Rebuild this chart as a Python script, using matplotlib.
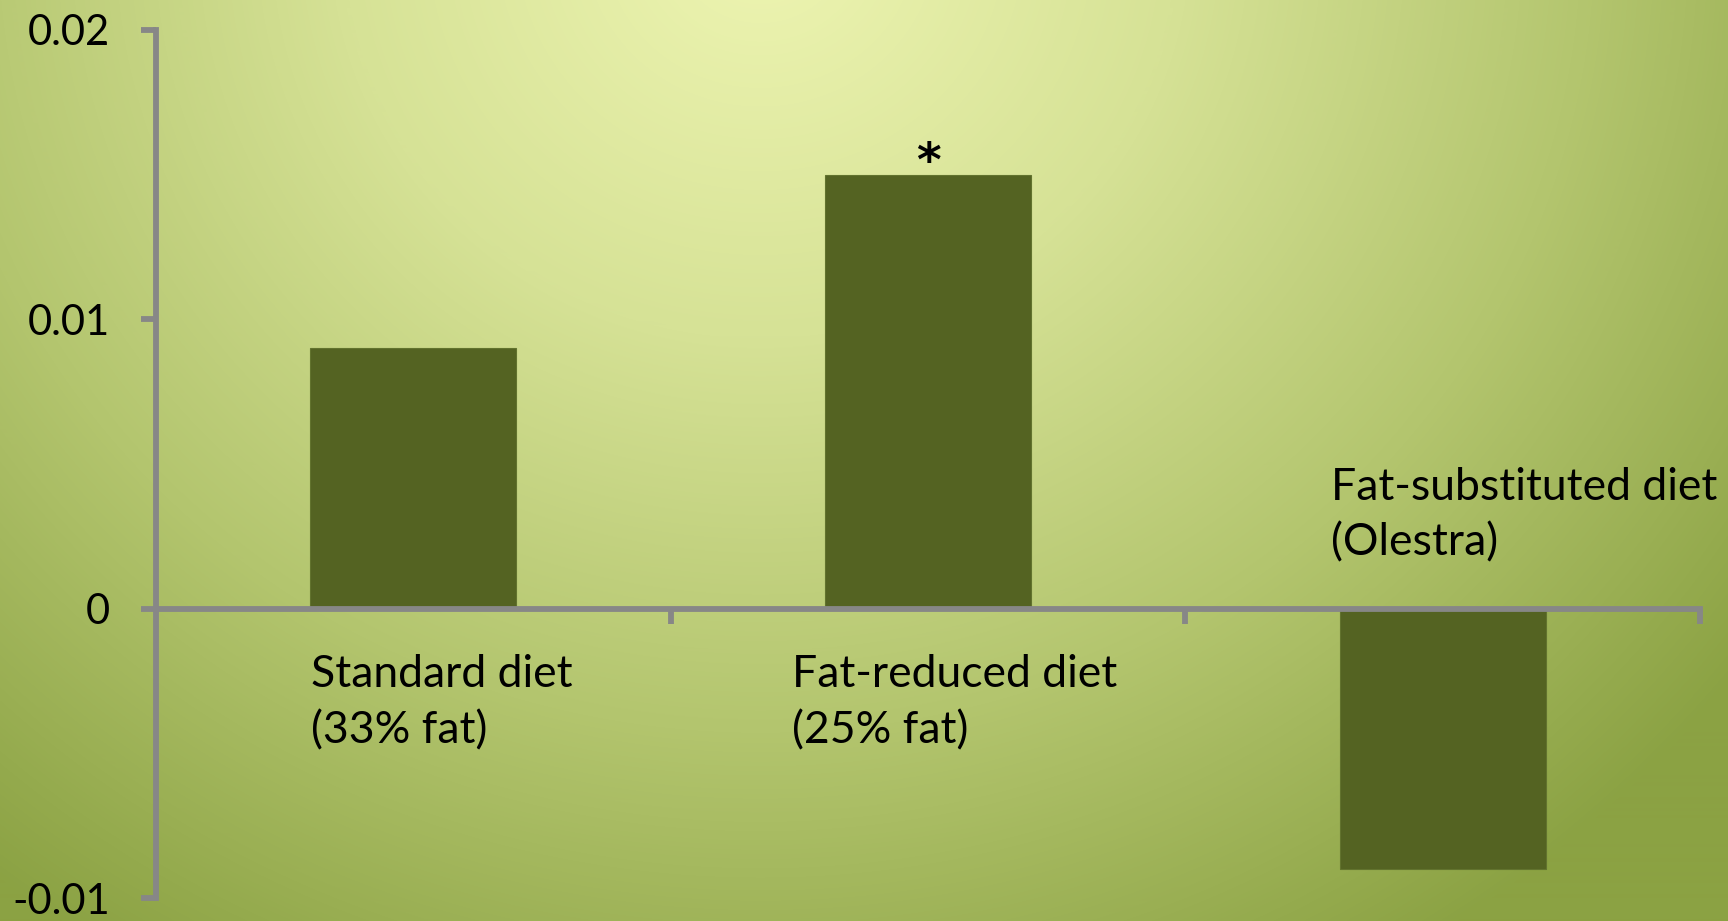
import matplotlib

matplotlib.use("Agg")
import matplotlib.pyplot as plt
import numpy as np
from matplotlib.colors import LinearSegmentedColormap

plt.rcParams["font.family"] = ["Lato", "DejaVu Sans"]

# change in value per diet group
categories = ["Standard diet\n(33% fat)", "Fat-reduced diet\n(25% fat)", "Fat-substituted diet\n(Olestra)"]
values = [0.009, 0.015, -0.009]
significant = [False, True, False]
yticks = [-0.01, 0, 0.01, 0.02]
ytick_labels = ["-0.01", "0", "0.01", "0.02"]

BAR_COLOR = "#546322"
AXIS_COLOR = "#878787"

fig = plt.figure(figsize=(17.28, 9.21), dpi=100)

# soft radial backdrop, bright near the top centre, darker olive at the edges
bg = fig.add_axes([0, 0, 1, 1], zorder=-10)
h, w = 921, 1728
yy, xx = np.mgrid[0:h, 0:w]
r = np.hypot((xx - 760) / 1.0, (yy + 60) / 0.95) / 1250.0
r = np.clip(r, 0, 1)
cmap = LinearSegmentedColormap.from_list(
    "olive", ["#eef5b2", "#d6e296", "#b3c56e", "#8ba243"], N=256
)
bg.imshow(r, cmap=cmap, aspect="auto", extent=[0, 1, 0, 1], origin="upper",
          vmin=0, vmax=1)
bg.axis("off")

ax = fig.add_axes([156 / 1728, 1 - 898 / 921, (1700 - 156) / 1728, (898 - 30) / 921])
ax.patch.set_alpha(0)

x = np.arange(len(values))
ax.bar(x, values, width=0.4, color=BAR_COLOR, edgecolor="#62732e", linewidth=0.8, zorder=2)

for xi, v, sig in zip(x, values, significant):
    if sig:
        ax.annotate("*", (xi, v), xytext=(0, -8), textcoords="offset points",
                    ha="center", va="bottom", fontsize=34, fontweight="bold",
                    family="DejaVu Sans", color="black")

# category labels sit inside the plot, below or above the zero line
label_x = [-0.199, 0.736, 1.783]
label_y = [-0.00325, -0.00325, 0.00322]
for lx, ly, text in zip(label_x, label_y, categories):
    ax.text(lx, ly, text, ha="left", va="center", fontsize=32,
            linespacing=1.44, color="black")

ax.set_xlim(-0.5, 2.5)
ax.set_ylim(-0.01, 0.02)
ax.set_yticks(yticks)
ax.set_yticklabels(ytick_labels, fontsize=30)
ax.set_xticks([0.5, 1.5, 2.5])
ax.set_xticklabels([])

for side in ("top", "right"):
    ax.spines[side].set_visible(False)
ax.spines["bottom"].set_position(("data", 0))
for side in ("left", "bottom"):
    ax.spines[side].set_color(AXIS_COLOR)
    ax.spines[side].set_linewidth(4.2)
    ax.spines[side].set_zorder(3)
ax.spines["left"].set_capstyle("projecting")
ax.tick_params(axis="y", direction="out", length=11, width=4.2, color=AXIS_COLOR, pad=22)
ax.tick_params(axis="x", direction="out", length=11, width=4.2, color=AXIS_COLOR)

fig.savefig("out.png", dpi=100)
